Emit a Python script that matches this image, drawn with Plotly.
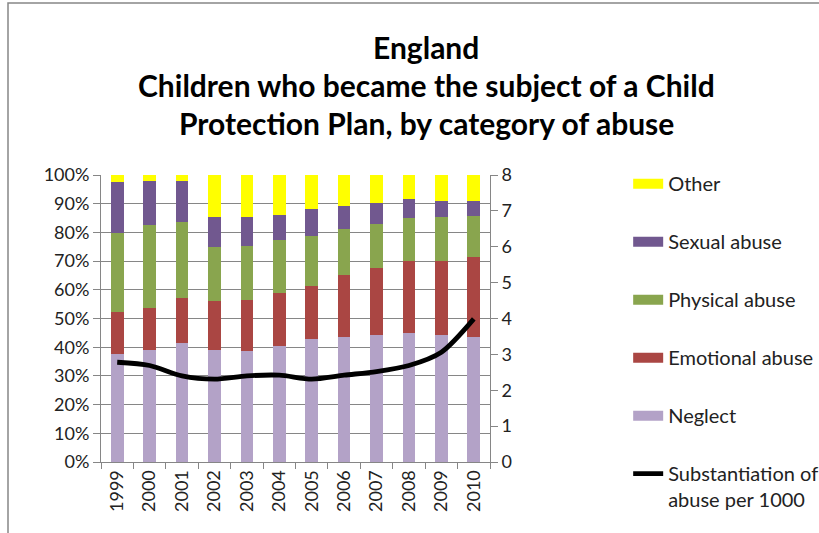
import plotly.graph_objects as go

years = ["1999", "2000", "2001", "2002", "2003", "2004", "2005", "2006", "2007", "2008", "2009", "2010"]
neglect = [37.7, 39.1, 41.4, 39.1, 38.6, 40.3, 42.7, 43.5, 44.4, 44.9, 44.4, 43.5]
emotional = [14.4, 14.7, 15.6, 17.0, 17.9, 18.5, 18.7, 21.5, 23.3, 25.0, 25.5, 27.8]
physical = [27.7, 28.7, 26.5, 18.8, 18.9, 18.4, 17.5, 16.2, 15.3, 15.0, 15.3, 14.4]
sexual = [17.6, 15.4, 14.4, 10.3, 9.8, 8.9, 9.1, 8.1, 7.1, 6.6, 5.8, 5.3]
other = [2.6, 2.1, 2.1, 14.8, 14.8, 13.9, 12.0, 10.7, 9.9, 8.5, 9.0, 9.0]
substantiation = [2.78, 2.69, 2.40, 2.31, 2.40, 2.42, 2.31, 2.42, 2.52, 2.69, 3.06, 3.99]

series = [
    ("Neglect", neglect, "#B3A2C7"),
    ("Emotional abuse", emotional, "#AA4643"),
    ("Physical abuse", physical, "#89A54E"),
    ("Sexual abuse", sexual, "#71588F"),
    ("Other", other, "#FFFF00"),
]

FONT = "Lato"
GRID = "#868686"

fig = go.Figure()
for name, vals, col in series:
    fig.add_trace(go.Bar(x=years, y=vals, name=name, marker=dict(color=col, line=dict(width=0)),
                         showlegend=False, yaxis="y"))

# legend entries (wide colour swatches like the original)
legend_order = ["Other", "Sexual abuse", "Physical abuse", "Emotional abuse", "Neglect"]
colors = {n: c for n, _, c in series}
for i, name in enumerate(legend_order):
    fig.add_trace(go.Scatter(x=[None], y=[None], mode="lines", name=name,
                             line=dict(color=colors[name], width=11),
                             legendgroup=name, legendrank=i + 1, hoverinfo="skip"))

fig.add_trace(go.Scatter(x=years, y=substantiation, mode="lines", yaxis="y2",
                         name="Substantiation of<br>abuse per 1000",
                         line=dict(color="black", width=4.8, shape="spline", smoothing=0.8),
                         legendgroup="subst", legendrank=6))

fig.update_layout(
    width=819, height=533,
    barmode="stack", bargap=0.61,
    paper_bgcolor="white", plot_bgcolor="white",
    margin=dict(l=101, r=329, t=175, b=71),
    font=dict(family=FONT, size=18, color="#222222"),
    xaxis=dict(type="category", showline=True, linecolor=GRID, linewidth=1,
               ticks="outside", tickson="boundaries", ticklen=6, tickcolor=GRID,
               tickangle=-90, tickfont=dict(size=18, family=FONT), showgrid=False),
    yaxis=dict(range=[0, 100], dtick=10, ticksuffix="%", showline=True, linecolor=GRID,
               gridcolor=GRID, gridwidth=1, ticks="outside", ticklen=7, tickcolor=GRID,
               tickfont=dict(size=18, family=FONT), zeroline=False),
    yaxis2=dict(range=[0, 8], dtick=1, overlaying="y", side="right", showline=True,
                linecolor=GRID, ticks="outside", ticklen=7, tickcolor=GRID, showgrid=False,
                tickfont=dict(size=18, family=FONT), zeroline=False),
    legend=dict(xref="container", yref="container", x=0.767, y=0.692,
                xanchor="left", yanchor="top", traceorder="grouped", tracegroupgap=29,
                valign="top", maxheight=420,
                font=dict(size=20, family=FONT, color="#222222"), bgcolor="rgba(0,0,0,0)"),
    showlegend=True,
)

title_lines = ["England", "Children who became the subject of a Child",
               "Protection Plan, by category of abuse"]
for i, t in enumerate(title_lines):
    fig.add_annotation(text="<b>%s</b>" % t, xref="paper", yref="paper",
                       x=(426 - 101) / 389, y=(462 - (47 + 38 * i)) / 287,
                       xanchor="center", yanchor="middle", showarrow=False,
                       font=dict(size=30, family=FONT, color="black"))

# chart frame border
fig.add_shape(type="rect", xref="paper", yref="paper",
              x0=(8 - 101) / 389, x1=(840 - 101) / 389,
              y0=(462 - 560) / 287, y1=(462 - 3) / 287,
              line=dict(color=GRID, width=1.5), layer="below")

fig.write_html("out.html", config={"displayModeBar": False},
               post_script="document.body.style.margin='0px';document.body.style.overflow='hidden';")
